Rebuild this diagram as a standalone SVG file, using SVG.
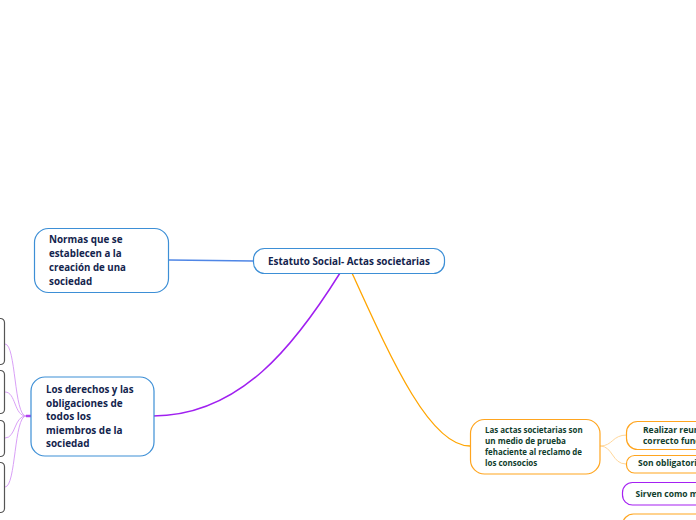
<svg xmlns="http://www.w3.org/2000/svg" width="696" height="520" viewBox="0 0 696 520">
<style>
text{font-family:"Open Sans","Noto Sans","Liberation Sans",sans-serif;font-weight:700}
.blue{fill:#fff;stroke:#3d8fd6;stroke-width:1.2}
.navy{fill:#13244d}
.green{fill:#0f3d2c}
.org{fill:#fff;stroke:#ffa51f;stroke-width:1.2}
.pur{fill:#fff;stroke:#a521f2;stroke-width:1.2}
.gray{fill:#fff;stroke:#555;stroke-width:1.2}
.c{fill:none}
</style>
<rect width="696" height="520" fill="#fff"/>
<g id="connectors">
<path class="c" d="M169,260 C210,260 215,261 253,261" stroke="#4f86e6" stroke-width="1.6"/>
<path class="c" d="M153,416 C240,416 295,345 340,273" stroke="#a020f0" stroke-width="1.5"/>
<path class="c" d="M352,273 C392,361 430,446 470,446" stroke="#ffa500" stroke-width="1.3"/>
<path class="c" d="M26,416 L31,416" stroke="#b040f0" stroke-width="2.5"/>
<path class="c" d="M26,416 C14,416 16,344 5,344" stroke="#d9a0f7" stroke-width="1"/>
<path class="c" d="M26,416 C14,416 16,392 5,392" stroke="#d9a0f7" stroke-width="1"/>
<path class="c" d="M26,416 C14,416 16,438 5,438" stroke="#d9a0f7" stroke-width="1"/>
<path class="c" d="M26,416 C14,416 16,487 5,487" stroke="#d9a0f7" stroke-width="1"/>
<path class="c" d="M600,446 C613,446 612,435 627,435" stroke="#ffd79a" stroke-width="1"/>
<path class="c" d="M600,446 C613,446 612,464 626,464" stroke="#ffd79a" stroke-width="1"/>
</g>
<g id="central">
<rect class="blue" x="253.5" y="248.5" width="191" height="25" rx="11"/>
<text class="navy" x="349" y="265" font-size="10" text-anchor="middle" textLength="162" lengthAdjust="spacingAndGlyphs">Estatuto Social- Actas societarias</text>
</g>
<g id="normas">
<rect class="blue" x="34.5" y="228.5" width="134" height="64" rx="14"/>
<text class="navy" font-size="10.5" lengthAdjust="spacingAndGlyphs">
<tspan x="49" y="243" textLength="73.5" lengthAdjust="spacingAndGlyphs">Normas que se</tspan>
<tspan x="49" y="257" textLength="72.7" lengthAdjust="spacingAndGlyphs">establecen a la</tspan>
<tspan x="49" y="271" textLength="77" lengthAdjust="spacingAndGlyphs">creación de una</tspan>
<tspan x="49" y="285" textLength="43.3" lengthAdjust="spacingAndGlyphs">sociedad</tspan>
</text>
</g>
<g id="derechos">
<rect class="blue" x="31" y="377" width="123" height="79" rx="14"/>
<text class="navy" font-size="10">
<tspan x="46" y="393" textLength="87.6" lengthAdjust="spacingAndGlyphs">Los derechos y las</tspan>
<tspan x="46" y="407" textLength="76.6" lengthAdjust="spacingAndGlyphs">obligaciones de</tspan>
<tspan x="46" y="420" textLength="45" lengthAdjust="spacingAndGlyphs">todos los</tspan>
<tspan x="46" y="434" textLength="76.6" lengthAdjust="spacingAndGlyphs">miembros de la</tspan>
<tspan x="46" y="447" textLength="43.6" lengthAdjust="spacingAndGlyphs">sociedad</tspan>
</text>
</g>
<g id="left1"><rect class="gray" x="-20" y="318.5" width="24.5" height="46" rx="4"/></g>
<g id="left2"><rect class="gray" x="-20" y="370.5" width="24.5" height="43" rx="4"/></g>
<g id="left3"><rect class="gray" x="-20" y="420.5" width="24.5" height="36" rx="4"/></g>
<g id="left4"><rect class="gray" x="-20" y="462.5" width="24.5" height="50" rx="4"/></g>
<g id="actas">
<rect class="org" x="470.5" y="419.5" width="129.5" height="54.5" rx="14"/>
<text class="green" font-size="8.5">
<tspan x="485" y="433" textLength="97.7" lengthAdjust="spacingAndGlyphs">Las actas societarias son</tspan>
<tspan x="485" y="444" textLength="81" lengthAdjust="spacingAndGlyphs">un medio de prueba</tspan>
<tspan x="485" y="455" textLength="97" lengthAdjust="spacingAndGlyphs">fehaciente al reclamo de</tspan>
<tspan x="485" y="466" textLength="52.3" lengthAdjust="spacingAndGlyphs">los consocios</tspan>
</text>
</g>
<g id="realizar">
<rect class="org" x="626.5" y="421.5" width="100" height="28" rx="11"/>
<text class="green" font-size="8.5">
<tspan x="643" y="433">Realizar reun</tspan>
<tspan x="643" y="443.5">correcto func</tspan>
</text>
</g>
<g id="obligatorias">
<rect class="org" x="626.5" y="455.5" width="100" height="17.5" rx="8"/>
<text class="green" font-size="8.5" x="638" y="466">Son obligatori</text>
</g>
<g id="sirven">
<rect class="pur" x="622.5" y="482.5" width="100" height="22.5" rx="10"/>
<text class="green" font-size="8.5" x="635.5" y="496.5">Sirven como me</text>
</g>
<g id="ultimo">
<rect class="org" x="622.5" y="514" width="100" height="30" rx="11"/>
</g>
</svg>
